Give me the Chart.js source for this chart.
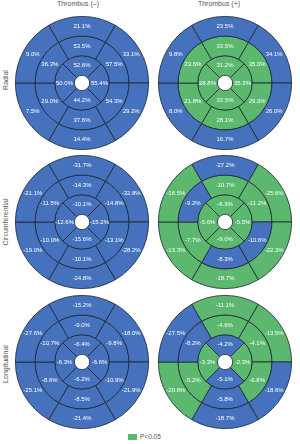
<!DOCTYPE html>
<html>
<head>
<meta charset="utf-8">
<script src="https://cdn.jsdelivr.net/npm/chart.js@4/dist/chart.umd.min.js"></script>
<style>
  body { margin: 0; background: #fff; font-family: "Liberation Sans", Arial, sans-serif; }
  #wrap { position: relative; width: 300px; height: 444px; }
  canvas.bull { position: absolute; }
  .col-title { position: absolute; top: 0; font-size: 7px; color: #555; transform: translateX(-50%); white-space: nowrap; }
  .row-title { position: absolute; left: 5px; font-size: 7px; color: #555; white-space: nowrap;
               transform: translate(-50%, -50%) rotate(-90deg); }
  #legend { position: absolute; left: 128px; top: 433px; font-size: 6.5px; color: #555; display: flex; align-items: center; }
  #legend span.box { display: inline-block; width: 9px; height: 6px; background: #5cb86e; margin-right: 3px; }
</style>
</head>
<body>
<div id="wrap">
  <div class="col-title" style="left:78px">Thrombus (&ndash;)</div>
  <div class="col-title" style="left:219px">Thrombus (+)</div>
  <div class="row-title" style="top:80px">Radial</div>
  <div class="row-title" style="top:222px">Circumferential</div>
  <div class="row-title" style="top:364px">Longitudinal</div>
  <div id="legend"><span class="box"></span>P&lt;0.05</div>
</div>
<script>
  // Segment order, outer & mid rings: top, upper-right, lower-right, bottom, lower-left, upper-left
  // Inner ring: top, right, bottom, left
  const panels = [
    { id: 'radNeg', cx: 82, cy: 83,
      outer: [21.1, 33.1, 29.2, 14.4, 7.5, 9.0],
      mid: [53.5, 57.5, 54.3, 37.6, 29.0, 36.3],
      inner: [52.6, 55.4, 44.2, 50.0],
      sigOuter: [0, 0, 0, 0, 0, 0], sigMid: [0, 0, 0, 0, 0, 0], sigInner: [0, 0, 0, 0] },
    { id: 'radPos', cx: 225, cy: 83,
      outer: [23.5, 34.1, 26.0, 16.7, 8.0, 9.8],
      mid: [33.5, 35.0, 29.0, 28.1, 21.8, 23.6],
      inner: [31.2, 35.3, 33.5, 28.8],
      sigOuter: [0, 0, 0, 0, 0, 0], sigMid: [1, 1, 1, 1, 1, 1], sigInner: [1, 1, 1, 1] },
    { id: 'circNeg', cx: 82, cy: 222,
      outer: [-31.7, -32.8, -28.2, -24.8, -19.0, -21.1],
      mid: [-14.3, -14.8, -13.1, -10.1, -10.0, -11.5],
      inner: [-10.1, -15.2, -15.6, -12.6],
      sigOuter: [0, 0, 0, 0, 0, 0], sigMid: [0, 0, 0, 0, 0, 0], sigInner: [0, 0, 0, 0] },
    { id: 'circPos', cx: 225, cy: 222,
      outer: [-27.2, -25.6, -22.3, -18.7, -13.3, -16.5],
      mid: [-10.7, -11.2, -10.6, -8.3, -7.7, -9.2],
      inner: [-6.3, -5.5, -9.0, -5.6],
      sigOuter: [0, 1, 1, 1, 1, 1], sigMid: [1, 1, 0, 0, 1, 0], sigInner: [1, 1, 1, 1] },
    { id: 'longNeg', cx: 82, cy: 362,
      outer: [-15.2, -18.0, -21.9, -21.4, -25.1, -27.6],
      mid: [-9.0, -9.8, -10.9, -8.5, -8.6, -10.7],
      inner: [-6.4, -6.6, -6.2, -6.3],
      sigOuter: [0, 0, 0, 0, 0, 0], sigMid: [0, 0, 0, 0, 0, 0], sigInner: [0, 0, 0, 0] },
    { id: 'longPos', cx: 225, cy: 362,
      outer: [-11.1, -13.5, -18.6, -18.7, -20.8, -27.5],
      mid: [-4.6, -4.1, -6.8, -5.8, -5.2, -8.2],
      inner: [-4.2, -2.3, -5.1, -3.3],
      sigOuter: [1, 1, 0, 0, 1, 0], sigMid: [1, 1, 1, 0, 1, 0], sigInner: [0, 1, 0, 1] }
  ];

  const BLUE = '#4672bd';
  const GREEN = '#5cb86e';
  const LINE = '#1c2530';
  const SIZE = 140;

  // write the segment values at each arc's centre
  const valueLabels = {
    id: 'valueLabels',
    afterDatasetsDraw(chart) {
      const ctx = chart.ctx;
      ctx.save();
      ctx.fillStyle = '#fff';
      ctx.font = '6px "Liberation Sans", Arial, sans-serif';
      ctx.textAlign = 'center';
      ctx.textBaseline = 'middle';
      chart.data.datasets.forEach((ds, i) => {
        chart.getDatasetMeta(i).data.forEach((arc, j) => {
          const p = arc.tooltipPosition();
          ctx.fillText(ds.values[j].toFixed(1) + '%', p.x, p.y);
        });
      });
      ctx.restore();
    }
  };

  function ring(values, sig, rotation) {
    return {
      data: values.map(() => 1),
      values: values,
      backgroundColor: sig.map(s => s ? GREEN : BLUE),
      borderColor: LINE,
      borderWidth: 0.8,
      rotation: rotation
    };
  }

  const wrap = document.getElementById('wrap');
  panels.forEach(p => {
    const canvas = document.createElement('canvas');
    canvas.className = 'bull';
    canvas.width = SIZE;
    canvas.height = SIZE;
    canvas.style.width = SIZE + 'px';
    canvas.style.height = SIZE + 'px';
    canvas.style.left = (p.cx - SIZE / 2) + 'px';
    canvas.style.top = (p.cy - SIZE / 2) + 'px';
    wrap.appendChild(canvas);

    new Chart(canvas.getContext('2d'), {
      type: 'doughnut',
      data: {
        labels: ['a', 'b', 'c', 'd', 'e', 'f'],
        datasets: [
          ring(p.outer, p.sigOuter, -30),
          ring(p.mid, p.sigMid, -30),
          ring(p.inner, p.sigInner, -45)
        ]
      },
      options: {
        responsive: false,
        animation: false,
        cutout: '11.5%',
        layout: { padding: 3 },
        plugins: {
          legend: { display: false },
          tooltip: { enabled: false }
        }
      },
      plugins: [valueLabels]
    });
  });
</script>
</body>
</html>
